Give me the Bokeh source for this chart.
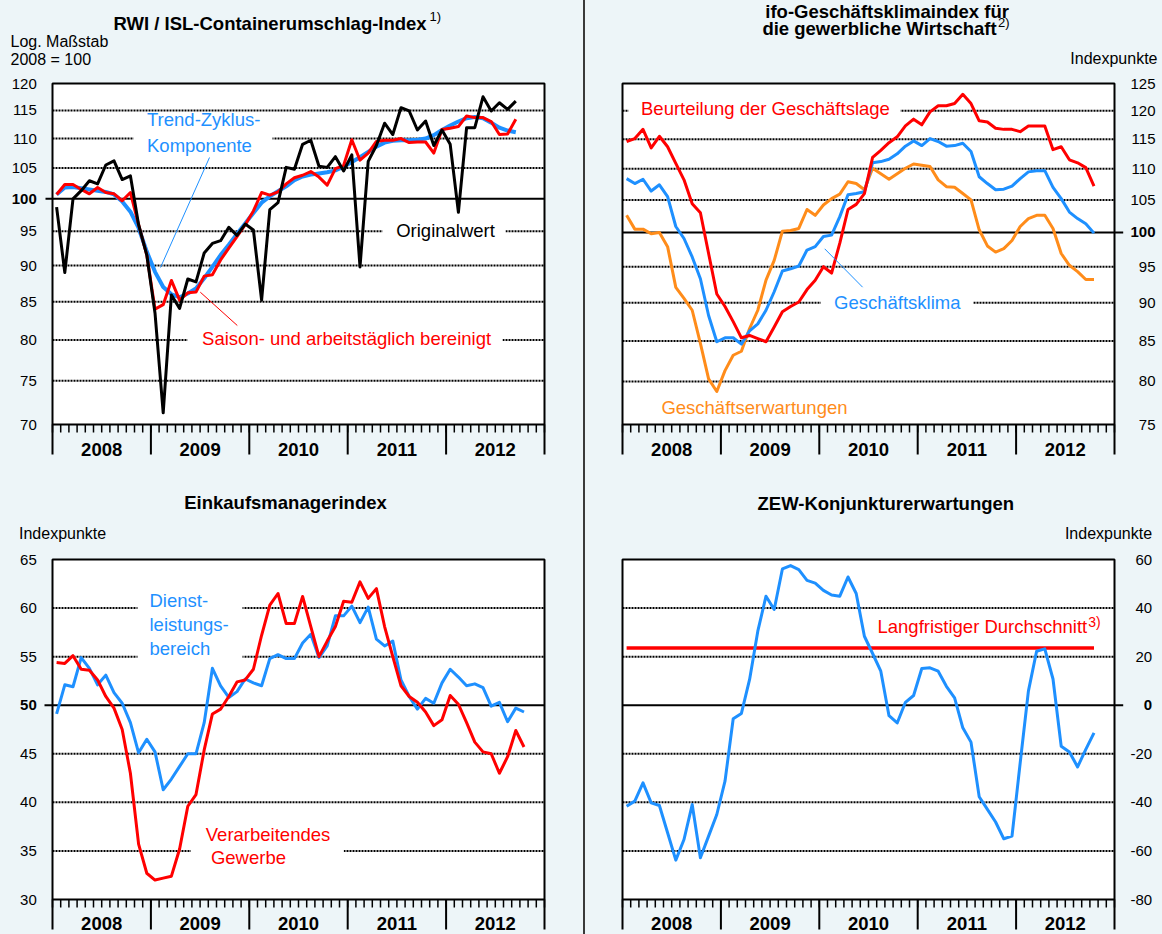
import numpy as np
from bokeh.plotting import figure
from bokeh.models import Range1d, Label, Spacer, GlobalInlineStyleSheet
from bokeh.layouts import row, column
from bokeh.embed import file_html
from bokeh.resources import INLINE

# ---------------- data (monthly, from Jan 2008) ----------------
years = ["2008", "2009", "2010", "2011", "2012"]

rwi_ticks = [70, 75, 80, 85, 90, 95, 100, 105, 110, 115, 120]
rwi_original = [98.7, 89.0, 100.0, 101.3, 102.9, 102.4, 105.5, 106.2, 103.1, 103.7,
                96.0, 91.5, 83.5, 71.3, 85.9, 84.1, 88.1, 87.7, 91.8, 93.2,
                93.6, 95.6, 94.4, 96.1, 95.2, 85.2, 98.3, 99.4, 105.1, 104.8,
                109.0, 109.7, 105.3, 105.1, 106.9, 104.5, 107.2, 89.8, 106.1, 108.8,
                112.7, 110.7, 115.5, 114.9, 111.5, 113.1, 108.8, 111.5, 109.0, 97.9,
                111.9, 111.9, 117.5, 114.9, 116.4, 115.2, 116.7]
rwi_saison = [100.7, 102.3, 102.3, 101.5, 100.8, 101.8, 101.0, 100.8, 99.7, 101.0,
              96.0, 91.5, 84.0, 84.6, 87.9, 85.2, 86.2, 86.3, 88.5, 88.7,
              90.8, 92.5, 94.2, 96.0, 98.1, 101.0, 100.6, 101.1, 102.4, 103.4,
              103.8, 104.4, 103.5, 102.2, 104.9, 105.4, 109.8, 106.3, 107.5, 109.5,
              109.7, 109.7, 110.0, 109.3, 109.4, 109.4, 107.5, 111.6, 111.8, 112.1,
              114.0, 113.7, 113.7, 113.0, 110.7, 110.8, 113.4]
rwi_trend = [100.7, 101.8, 101.9, 101.7, 101.5, 101.3, 101.1, 100.7, 99.6, 98.0,
             95.5, 92.0, 89.1, 87.0, 86.0, 85.6, 86.1, 86.8, 88.2, 89.8,
             91.5, 93.0, 94.6, 96.2, 97.8, 99.4, 100.4, 101.2, 102.0, 103.0,
             103.6, 103.9, 104.1, 104.3, 104.6, 105.2, 106.0, 106.8, 107.7, 108.6,
             109.3, 109.6, 109.7, 109.7, 109.8, 110.0, 110.6, 111.5, 112.3, 113.0,
             113.6, 113.8, 113.6, 112.8, 111.9, 111.4, 111.1]

ifo_ticks = [75, 80, 85, 90, 95, 100, 105, 110, 115, 120, 125]
ifo_lage = [114.6, 115.1, 116.7, 113.5, 115.5, 113.7, 110.9, 108.2, 104.4, 103.0,
            96.9, 91.2, 89.5, 87.5, 85.4, 85.7, 85.3, 84.9, 86.8, 88.8,
            89.5, 90.1, 91.8, 93.1, 95.0, 94.1, 98.4, 103.5, 104.3, 106.0,
            111.9, 113.1, 114.4, 115.4, 117.3, 118.5, 117.5, 119.8, 120.9, 120.9,
            121.3, 123.0, 121.3, 118.2, 118.0, 116.9, 116.7, 116.7, 116.3, 117.3,
            117.3, 117.3, 113.2, 113.7, 111.5, 111.0, 110.2, 107.2]
ifo_klima = [108.4, 107.6, 108.3, 106.4, 107.4, 105.5, 100.9, 99.1, 96.4, 93.3,
             88.3, 84.9, 85.4, 85.4, 84.6, 86.3, 87.2, 89.0, 91.5, 94.4,
             94.7, 95.1, 97.4, 97.9, 99.4, 99.6, 102.4, 105.8, 106.0, 106.3,
             111.0, 111.2, 111.6, 112.5, 113.8, 114.7, 113.9, 115.1, 114.6, 113.8,
             113.9, 114.3, 112.9, 108.7, 107.6, 106.6, 106.7, 107.2, 108.4, 109.5,
             109.7, 109.7, 107.0, 105.2, 103.1, 102.1, 101.3, 99.9]
ifo_erwartungen = [102.6, 100.5, 100.5, 99.8, 100.0, 97.9, 92.1, 90.6, 89.0, 84.7,
                   80.3, 78.8, 81.3, 83.2, 83.7, 86.6, 89.0, 93.1, 95.9, 100.2,
                   100.3, 100.6, 103.5, 102.6, 104.2, 105.2, 105.9, 107.9, 107.6, 106.6,
                   110.1, 109.2, 108.3, 109.2, 110.1, 110.8, 110.6, 110.4, 108.2, 107.1,
                   107.0, 106.0, 105.0, 100.4, 98.0, 97.1, 97.6, 98.8, 100.9, 102.1,
                   102.6, 102.6, 100.6, 96.9, 95.2, 94.3, 93.2, 93.2]

pmi_ticks = [30, 35, 40, 45, 50, 55, 60, 65]
pmi_verarbeitend = [54.4, 54.3, 55.1, 53.7, 53.6, 52.6, 50.9, 49.7, 47.5, 43.0,
                    35.7, 32.7, 32.0, 32.2, 32.4, 35.2, 39.6, 40.8, 45.4, 49.1,
                    49.6, 50.9, 52.4, 52.6, 53.7, 57.2, 60.3, 61.5, 58.4, 58.4,
                    61.2, 58.1, 55.0, 56.6, 58.1, 60.7, 60.6, 62.7, 61.0, 62.0,
                    58.1, 55.0, 52.0, 50.9, 50.3, 49.3, 47.9, 48.5, 51.0, 50.1,
                    48.2, 46.2, 45.2, 45.0, 43.0, 44.7, 47.4, 45.7]
pmi_dienst = [49.1, 52.1, 51.9, 54.9, 53.8, 52.1, 53.1, 51.3, 50.2, 48.2,
              45.1, 46.5, 45.2, 41.3, 42.4, 43.7, 45.0, 45.0, 48.2, 53.8,
              52.0, 50.8, 51.4, 52.7, 52.3, 52.0, 54.8, 55.2, 54.8, 54.8,
              56.4, 57.3, 54.9, 56.1, 59.2, 59.2, 60.2, 58.5, 60.1, 56.8,
              56.1, 56.6, 52.6, 50.9, 49.6, 50.7, 50.2, 52.3, 53.7, 52.9,
              52.0, 52.2, 51.8, 49.9, 50.3, 48.3, 49.7, 49.3]

zew_ticks = [-80, -60, -40, -20, 0, 20, 40, 60]
zew_erwartungen = [-41.6, -39.5, -32.0, -40.2, -41.3, -52.5, -63.8, -55.3, -40.9, -62.8,
                   -53.9, -45.0, -31.3, -5.6, -3.4, 10.6, 30.5, 44.9, 39.4, 56.1,
                   57.5, 55.8, 51.4, 50.3, 47.3, 45.4, 44.9, 52.8, 46.0, 28.4,
                   21.3, 14.0, -4.3, -7.3, 1.2, 4.0, 15.1, 15.4, 14.0, 7.8,
                   3.0, -9.3, -15.2, -37.7, -42.9, -48.1, -55.0, -53.9, -23.7, 5.8,
                   22.2, 23.2, 10.8, -16.9, -19.3, -25.4, -18.2, -11.4]
zew_durchschnitt = 23.6

# ---------------- style ----------------
FONT = "Liberation Sans"
BG = "#EDF5F8"
BLUE = "#1E90FF"
RED = "#FF0000"
ORANGE = "#FF8C1A"
NMONTHS = 12 * len(years)


class Geo:
    """Frame geometry of a panel on the page (pixels) and its value range."""
    def __init__(self, L, R, T, B, y0, y1, log):
        self.L, self.R, self.T, self.B = L, R, T, B
        self.y0, self.y1, self.log = y0, y1, log

    def x(self, px):
        return (px - self.L) / (self.R - self.L) * NMONTHS

    def y(self, py):
        f = (self.B - py) / (self.B - self.T)
        if self.log:
            return self.y0 * (self.y1 / self.y0) ** f
        return self.y0 + f * (self.y1 - self.y0)


def make_panel(geo, W, H, cx, cy):
    p = figure(width=W, height=H,
               x_range=Range1d(geo.x(cx), geo.x(cx + W)),
               y_range=Range1d(geo.y(cy + H), geo.y(cy)),
               y_axis_type="log" if geo.log else "linear",
               x_axis_location=None, y_axis_location=None,
               output_backend="svg", toolbar_location=None, min_border=0)
    p.grid.visible = False
    p.outline_line_color = None
    p.background_fill_color = BG
    p.border_fill_color = BG
    return p


def plot_area(p, geo, ticks, ref):
    y0, y1 = ticks[0], ticks[-1]
    p.quad(left=0, right=NMONTHS, bottom=y0, top=y1, fill_color="white", line_color=None)
    inner = [t for t in ticks[1:-1] if t != ref]
    p.segment(x0=0, x1=NMONTHS, y0=inner, y1=inner, line_color="black",
              line_width=2, line_dash="2 1")


def white_boxes(p, geo, boxes):
    p.quad(left=[geo.x(b[0]) for b in boxes], right=[geo.x(b[1]) for b in boxes],
           top=[geo.y(b[2]) for b in boxes], bottom=[geo.y(b[3]) for b in boxes],
           fill_color="white", line_color=None)


def ref_line(p, geo, ref, px0, px1):
    p.segment(x0=geo.x(px0), x1=geo.x(px1), y0=ref, y1=ref, line_color="black", line_width=2)


def frame_and_ticks(p, geo, ticks):
    y0, y1 = ticks[0], ticks[-1]
    p.quad(left=0, right=NMONTHS, bottom=y0, top=y1, fill_color=None,
           line_color="black", line_width=2)
    mb = np.arange(NMONTHS + 1)
    p.segment(x0=mb, x1=mb, y0=y0, y1=geo.y(geo.B + 8), line_color="black", line_width=1.5)
    yb = np.arange(0, NMONTHS + 1, 12)
    p.segment(x0=yb, x1=yb, y0=y0, y1=geo.y(geo.B + 30), line_color="black", line_width=2)


def txt(p, geo, px, py, text, size="18.5px", color="black", align="left",
        bold=False, lh=1.2):
    p.add_layout(Label(x=geo.x(px), y=geo.y(py), text=text, text_font=FONT,
                       text_font_size=size, text_color=color, text_align=align,
                       text_baseline="middle", text_line_height=lh,
                       text_font_style="bold" if bold else "normal"))


def tick_labels(p, geo, px, ticks, ref):
    for v in ticks:
        p.add_layout(Label(x=geo.x(px), y=v, text=str(v), text_font=FONT,
                           text_font_size="15px", text_color="black", text_align="right",
                           text_baseline="middle",
                           text_font_style="bold" if v == ref else "normal"))


def year_labels(p, geo, py):
    for k, yr in enumerate(years):
        p.add_layout(Label(x=12 * k + 6, y=geo.y(py), text=yr, text_font=FONT,
                           text_font_size="18.5px", text_font_style="bold",
                           text_color="black", text_align="center",
                           text_baseline="middle"))


def leader(p, geo, x0, y0, x1, y1, color):
    p.line([geo.x(x0), geo.x(x1)], [geo.y(y0), geo.y(y1)], line_color=color, line_width=1)


# ---------------- panel 1: RWI/ISL ----------------
g1 = Geo(52, 544, 83, 424, 70, 120, True)
f1 = make_panel(g1, 583, 466, 0, 0)
m1 = np.arange(len(rwi_original)) + 0.5
plot_area(f1, g1, rwi_ticks, 100)
white_boxes(f1, g1, [(133, 272, 113, 151), (382, 505, 220, 241), (187, 502, 328, 349)])
ref_line(f1, g1, 100, 45, 544)
f1.line(m1, rwi_trend, line_color=BLUE, line_width=4, line_join="round")
f1.line(m1, rwi_saison, line_color=RED, line_width=3, line_join="round")
f1.line(m1, rwi_original, line_color="black", line_width=3, line_join="round")
leader(f1, g1, 209, 157, 160, 267, BLUE)
leader(f1, g1, 236.8, 325, 199.8, 291.7, RED)
frame_and_ticks(f1, g1, rwi_ticks)
txt(f1, g1, 113, 23, "RWI / ISL-Containerumschlag-Index", bold=True)
txt(f1, g1, 429, 16, "1)", size="13px")
txt(f1, g1, 10, 41, "Log. Maßstab", size="16px")
txt(f1, g1, 10, 59, "2008 = 100", size="16px")
tick_labels(f1, g1, 36.3, rwi_ticks, 100)
year_labels(f1, g1, 449)
txt(f1, g1, 146.5, 132, "Trend-Zyklus-\nKomponente", color=BLUE)
txt(f1, g1, 395.7, 230, "Originalwert")
txt(f1, g1, 201.6, 338, "Saison- und arbeitstäglich bereinigt", color=RED)

# ---------------- panel 2: ifo ----------------
g2 = Geo(622, 1114, 83, 424, 75, 125, True)
f2 = make_panel(g2, 577, 466, 585, 0)
m2 = np.arange(len(ifo_lage)) + 0.5
plot_area(f2, g2, ifo_ticks, 100)
white_boxes(f2, g2, [(628, 900, 100, 118), (820.5, 972.7, 293, 311)])
ref_line(f2, g2, 100, 622, 1122.7)
f2.line(m2, ifo_erwartungen, line_color=ORANGE, line_width=3, line_join="round")
f2.line(m2, ifo_klima, line_color=BLUE, line_width=3, line_join="round")
f2.line(m2, ifo_lage, line_color=RED, line_width=3, line_join="round")
leader(f2, g2, 824.2, 248.3, 862.1, 286.7, BLUE)
frame_and_ticks(f2, g2, ifo_ticks)
txt(f2, g2, 886.6, 10.5, "ifo-Geschäftsklimaindex für", bold=True, align="center")
txt(f2, g2, 761.9, 28, "die gewerbliche Wirtschaft", bold=True)
txt(f2, g2, 997.6, 22, "2)", size="13px")
txt(f2, g2, 1157, 58, "Indexpunkte", size="16px", align="right")
tick_labels(f2, g2, 1155, ifo_ticks, 100)
year_labels(f2, g2, 449)
txt(f2, g2, 640.5, 108, "Beurteilung der Geschäftslage", color=RED)
txt(f2, g2, 833.5, 301.7, "Geschäftsklima", color=BLUE)
txt(f2, g2, 660.9, 406.7, "Geschäftserwartungen", color=ORANGE)

# ---------------- panel 3: Einkaufsmanagerindex ----------------
g3 = Geo(52, 544, 559, 899, 30, 65, False)
f3 = make_panel(g3, 583, 468, 0, 466)
m3 = np.arange(len(pmi_verarbeitend)) + 0.5
plot_area(f3, g3, pmi_ticks, 50)
white_boxes(f3, g3, [(137, 242, 595, 661), (190.5, 343.3, 843, 861)])
ref_line(f3, g3, 50, 44, 544)
f3.line(m3, pmi_dienst, line_color=BLUE, line_width=3, line_join="round")
f3.line(m3, pmi_verarbeitend, line_color=RED, line_width=3, line_join="round")
frame_and_ticks(f3, g3, pmi_ticks)
txt(f3, g3, 285, 501.7, "Einkaufsmanagerindex", bold=True, align="center")
txt(f3, g3, 18.5, 533.3, "Indexpunkte", size="16px")
tick_labels(f3, g3, 36.3, pmi_ticks, 50)
year_labels(f3, g3, 923)
txt(f3, g3, 149, 624.2, "Dienst-\nleistungs-\nbereich", color=BLUE, lh=1.13)
txt(f3, g3, 205.3, 845.7, "Verarbeitendes\n\u00a0Gewerbe", color=RED, lh=1.08)

# ---------------- panel 4: ZEW ----------------
g4 = Geo(622, 1114, 559, 899, -80, 60, False)
f4 = make_panel(g4, 577, 468, 585, 466)
m4 = np.arange(len(zew_erwartungen)) + 0.5
plot_area(f4, g4, zew_ticks, 0)
ref_line(f4, g4, 0, 622, 1122.7)
f4.line([m4[0], m4[-1]], [zew_durchschnitt, zew_durchschnitt], line_color=RED, line_width=3.5)
f4.line(m4, zew_erwartungen, line_color=BLUE, line_width=3, line_join="round")
frame_and_ticks(f4, g4, zew_ticks)
txt(f4, g4, 885.3, 503.3, "ZEW-Konjunkturerwartungen", bold=True, align="center")
txt(f4, g4, 1151.6, 533.3, "Indexpunkte", size="16px", align="right")
tick_labels(f4, g4, 1151.6, zew_ticks, 0)
year_labels(f4, g4, 923)
txt(f4, g4, 877, 626, "Langfristiger Durchschnitt", color=RED)
txt(f4, g4, 1087.8, 621.7, "3)", size="14px", color=RED)

# ---------------- layout ----------------
sep = Spacer(width=2, height=934, styles={"background-color": "#3A3A3A"})
layout = row(column(f1, f3), sep, column(f2, f4))
layout.stylesheets = [GlobalInlineStyleSheet(css="body { background-color: %s; }" % BG)]

open("out.html", "w").write(file_html(layout, INLINE))
